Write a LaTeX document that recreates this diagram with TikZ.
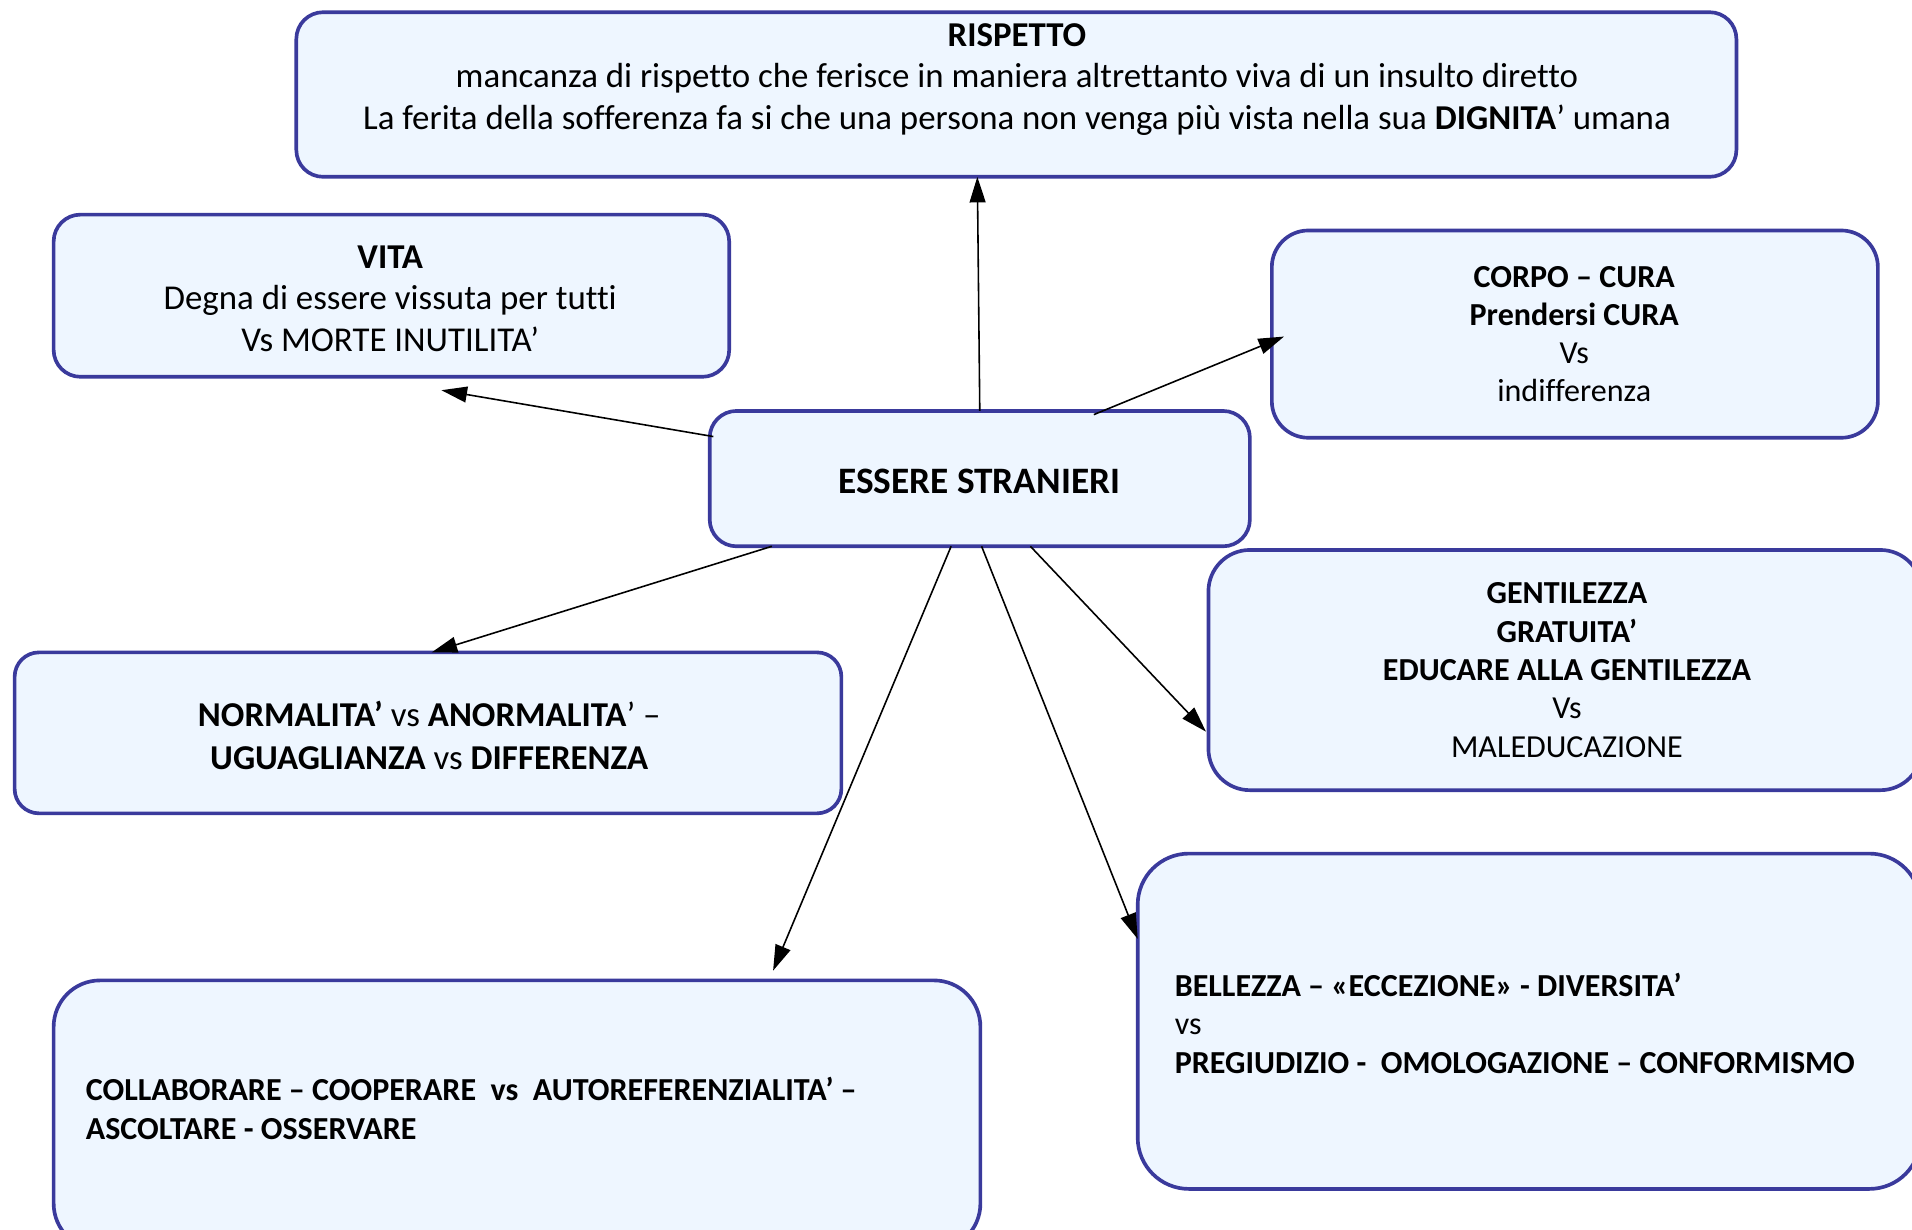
\documentclass[tikz,border=0pt]{standalone}
\usepackage{fontspec}
\setmainfont[Ligatures=NoCommon]{Carlito}
\usetikzlibrary{arrows.meta,calc}
\definecolor{bord}{HTML}{3A3A9C}
\definecolor{boxfill}{HTML}{EEF6FF}
\tikzset{
  ibox/.style={draw=bord, fill=boxfill, line width=1.5pt, inner sep=0pt, outer sep=0pt},
  txt/.style={inner sep=0pt, align=center, text=black},
  ltxt/.style={inner sep=0pt, align=left, anchor=west, text=black},
  arr/.style={-{Triangle[length=10.5pt,width=6.5pt]}, line width=0.65pt, black},
  fA/.style={font=\fontsize{14.3}{17}\selectfont},
  fB/.style={font=\fontsize{13.15}{15.7}\selectfont},
}
\begin{document}
\begin{tikzpicture}[x=0.5pt,y=-0.5pt]
\path[use as bounding box] (0,0) rectangle (1568,1008);
\clip (0,0) rectangle (1568,1008);
\fill[white] (0,0) rectangle (1568,1008);

% boxes
\node[ibox, rounded corners=11pt, minimum width=590.5pt, minimum height=67.5pt] (r) at (833.5,77.5) {};
\node[ibox, rounded corners=11pt, minimum width=277pt, minimum height=66.5pt] (v) at (321,242.5) {};
\node[ibox, rounded corners=15pt, minimum width=248.5pt, minimum height=85pt] (c) at (1291.5,274) {};
\node[ibox, rounded corners=11pt, minimum width=221.5pt, minimum height=55.5pt] (es) at (803.5,392.5) {};
\node[ibox, rounded corners=17pt, minimum width=292.5pt, minimum height=98.5pt] (g) at (1283.5,549.5) {};
\node[ibox, rounded corners=10pt, minimum width=339pt, minimum height=66pt] (n) at (351,601) {};
\node[ibox, rounded corners=21pt, minimum width=321pt, minimum height=137.5pt] (b) at (1254,837.5) {};
\node[ibox, rounded corners=19pt, minimum width=380pt, minimum height=110.5pt] (co) at (424,914.5) {};

% texts
\node[txt, font=\fontsize{15.3}{18}\selectfont\bfseries] (est) at (803,395) {ESSERE STRANIERI};
\node[txt, fA] (rt) at (834,65) {\textbf{RISPETTO}\\mancanza di rispetto che ferisce in maniera altrettanto viva di un insulto diretto\\La ferita della sofferenza fa si che una persona non venga più vista nella sua \textbf{DIGNITA}’ umana};
\node[txt, fA] (vt) at (320,245) {\textbf{VITA}\\Degna di essere vissuta per tutti\\Vs MORTE INUTILITA’};
\node[txt, fB] (ct) at (1291,274) {\textbf{CORPO – CURA}\\\textbf{Prendersi CURA}\\Vs\\indifferenza};
\node[txt, fB] (gt) at (1285,549.5) {\textbf{GENTILEZZA}\\\textbf{GRATUITA’}\\\textbf{EDUCARE ALLA GENTILEZZA}\\Vs\\MALEDUCAZIONE};
\node[txt, font=\fontsize{14.3}{17.5}\selectfont] (nt) at (352,603) {\textbf{NORMALITA’} vs \textbf{ANORMALITA}’ –\\\textbf{UGUAGLIANZA} vs \textbf{DIFFERENZA}};
\node[ltxt, font=\fontsize{13.15}{15.75}\selectfont] (bt) at (963,839) {\textbf{BELLEZZA – «ECCEZIONE» - DIVERSITA’}\\vs\\\textbf{PREGIUDIZIO -\ \ OMOLOGAZIONE – CONFORMISMO}};
\node[ltxt, font=\fontsize{13.15}{16}\selectfont] (cot) at (70,909) {\textbf{COLLABORARE – COOPERARE\ \ vs\ \ AUTOREFERENZIALITA’ –}\\\textbf{ASCOLTARE - OSSERVARE}};

% connectors
\draw[arr] (es.north) -- ($(r.south)+(-32,0)$);
\draw[arr] ($(es.north west)+(3,21)$) -- ($(v.south)+(41,11)$);
\draw[arr] ($(es.north west)+(315,3)$) -- ($(c.north west)+(10,87)$);
\draw[arr] ($(es.south west)+(51,0)$) -- ($(n.north)+(3,0)$);
\draw[arr] ($(es.south west)+(198,0)$) -- ($(co.north west)+(590,-8)$);
\draw[arr] ($(es.south)+(1.5,0)$) -- ($(b.north west)+(0,70)$);
\draw[arr] ($(es.south west)+(263,0)$) -- ($(g.north west)+(-2,149)$);
\end{tikzpicture}
\end{document}
